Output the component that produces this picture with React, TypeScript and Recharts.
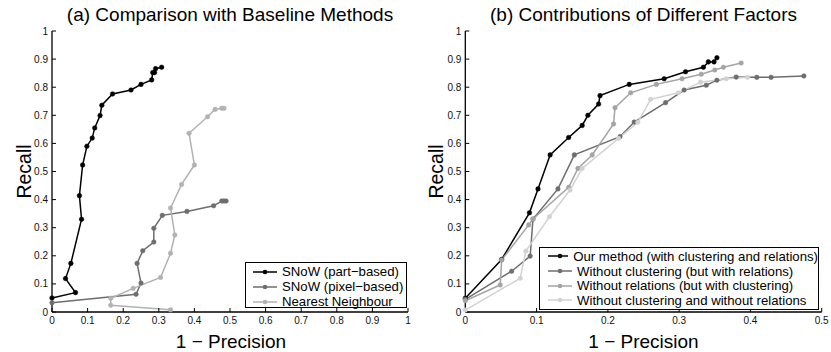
import React from 'react';
import { LineChart, Line, XAxis, YAxis, Legend } from 'recharts';

// ---- panel (a): comparison with baseline methods ----
const partBasedX = [0, 0.066, 0.038, 0.053, 0.083, 0.077, 0.086, 0.098, 0.113, 0.12, 0.135, 0.14, 0.17, 0.222, 0.25, 0.28, 0.283, 0.288, 0.291, 0.308];
const partBasedY = [0.05, 0.069, 0.119, 0.173, 0.33, 0.414, 0.523, 0.59, 0.619, 0.655, 0.699, 0.736, 0.776, 0.79, 0.81, 0.826, 0.852, 0.852, 0.866, 0.871];

const pixelBasedX = [0, 0.236, 0.25, 0.239, 0.255, 0.286, 0.286, 0.31, 0.379, 0.454, 0.477, 0.483, 0.489];
const pixelBasedY = [0.033, 0.063, 0.103, 0.173, 0.218, 0.249, 0.298, 0.344, 0.358, 0.378, 0.395, 0.395, 0.395];

const nearestX = [0.333, 0.165, 0.165, 0.228, 0.305, 0.333, 0.345, 0.333, 0.364, 0.4, 0.385, 0.437, 0.458, 0.477, 0.483];
const nearestY = [0.008, 0.024, 0.049, 0.084, 0.123, 0.209, 0.274, 0.37, 0.454, 0.523, 0.636, 0.695, 0.721, 0.725, 0.725];

// ---- panel (b): contributions of different factors ----
const ourX = [0, 0.051, 0.09, 0.102, 0.119, 0.145, 0.164, 0.172, 0.187, 0.189, 0.23, 0.279, 0.309, 0.334, 0.341, 0.349, 0.353];
const ourY = [0.049, 0.187, 0.353, 0.438, 0.559, 0.621, 0.664, 0.7, 0.74, 0.77, 0.81, 0.83, 0.855, 0.871, 0.89, 0.89, 0.905];

const noClusterX = [0, 0.065, 0.091, 0.095, 0.13, 0.153, 0.217, 0.237, 0.281, 0.307, 0.338, 0.353, 0.38, 0.409, 0.429, 0.475];
const noClusterY = [0.045, 0.145, 0.199, 0.331, 0.438, 0.559, 0.624, 0.676, 0.745, 0.79, 0.807, 0.825, 0.836, 0.835, 0.835, 0.84];

const noRelX = [0, 0.049, 0.051, 0.089, 0.095, 0.145, 0.158, 0.178, 0.208, 0.21, 0.232, 0.268, 0.304, 0.331, 0.35, 0.362, 0.387];
const noRelY = [0.04, 0.096, 0.185, 0.31, 0.331, 0.444, 0.511, 0.559, 0.669, 0.727, 0.78, 0.81, 0.83, 0.846, 0.861, 0.871, 0.886];

const neitherX = [0, 0.077, 0.085, 0.118, 0.147, 0.164, 0.215, 0.242, 0.26, 0.299, 0.33, 0.366, 0.396];
const neitherY = [0.007, 0.12, 0.217, 0.339, 0.434, 0.511, 0.618, 0.675, 0.757, 0.78, 0.818, 0.83, 0.835];

const recallTicks = [0, 0.1, 0.2, 0.3, 0.4, 0.5, 0.6, 0.7, 0.8, 0.9, 1];
const ticksA = [0, 0.1, 0.2, 0.3, 0.4, 0.5, 0.6, 0.7, 0.8, 0.9, 1];
const ticksB = [0, 0.1, 0.2, 0.3, 0.4, 0.5];

const FONT = '"Liberation Sans", Arial, Helvetica, sans-serif';

type Series = { name: string; color: string; xs: number[]; ys: number[] };

const seriesA: Series[] = [
  { name: 'SNoW (part−based)', color: '#000000', xs: partBasedX, ys: partBasedY },
  { name: 'SNoW (pixel−based)', color: '#6e6e6e', xs: pixelBasedX, ys: pixelBasedY },
  { name: 'Nearest Neighbour', color: '#b2b2b2', xs: nearestX, ys: nearestY },
];

const seriesB: Series[] = [
  { name: 'Our method (with clustering and relations)', color: '#000000', xs: ourX, ys: ourY },
  { name: 'Without clustering (but with relations)', color: '#6e6e6e', xs: noClusterX, ys: noClusterY },
  { name: 'Without relations (but with clustering)', color: '#a4a4a4', xs: noRelX, ys: noRelY },
  { name: 'Without clustering and without relations', color: '#d2d2d2', xs: neitherX, ys: neitherY },
];

const toPoints = (s: Series) => s.xs.map((x, i) => ({ x, y: s.ys[i] }));
const fmt = (v: number) => String(v);

const axisLine = { stroke: '#000', strokeWidth: 1.3 };
const tickLine = { stroke: '#000', strokeWidth: 1 };
const tickStyle = { fill: '#111', fontSize: 10, fontFamily: FONT };

interface PanelProps {
  left: number;
  series: Series[];
  xMax: number;
  xTicks: number[];
  margin: { top: number; right: number; bottom: number; left: number };
  legendBox: { left: number; top: number; width: number; height: number; row: number; padLeft: number };
}

const Panel: React.FC<PanelProps> = ({ left, series, xMax, xTicks, margin, legendBox }) => {
  const renderLegend = () => (
    <div
      style={{
        boxSizing: 'border-box',
        width: legendBox.width,
        height: legendBox.height,
        border: '1.3px solid #000',
        background: '#fff',
        paddingTop: 1,
        paddingLeft: legendBox.padLeft,
        fontFamily: FONT,
        fontSize: 13.2,
        color: '#000',
      }}
    >
      {series.map((s) => (
        <div key={s.name} style={{ height: legendBox.row, display: 'flex', alignItems: 'center', whiteSpace: 'nowrap' }}>
          <svg width={24} height={8} style={{ marginRight: 5 }}>
            <line x1={0} y1={4} x2={24} y2={4} stroke={s.color} strokeWidth={1.5} />
            <circle cx={12} cy={4} r={2.3} fill={s.color} />
          </svg>
          <span>{s.name}</span>
        </div>
      ))}
    </div>
  );

  return (
    <div style={{ position: 'absolute', left, top: 0 }}>
      <LineChart width={415} height={352} margin={margin}>
        <XAxis
          type="number"
          dataKey="x"
          domain={[0, xMax]}
          ticks={xTicks}
          tickFormatter={fmt}
          height={30}
          tickSize={-4}
          tickMargin={9}
          axisLine={axisLine}
          tickLine={tickLine}
          tick={tickStyle}
          interval={0}
        />
        <XAxis
          xAxisId="top"
          orientation="top"
          type="number"
          domain={[0, xMax]}
          ticks={xTicks}
          height={0}
          tickSize={-4}
          axisLine={axisLine}
          tickLine={tickLine}
          tick={false}
          interval={0}
        />
        <YAxis
          type="number"
          domain={[0, 1]}
          ticks={recallTicks}
          tickFormatter={fmt}
          width={30}
          tickSize={-4}
          tickMargin={8}
          axisLine={axisLine}
          tickLine={tickLine}
          tick={tickStyle}
          interval={0}
        />
        <YAxis
          yAxisId="right"
          orientation="right"
          type="number"
          domain={[0, 1]}
          ticks={recallTicks}
          width={0}
          tickSize={-4}
          axisLine={axisLine}
          tickLine={tickLine}
          tick={false}
          interval={0}
        />
        {series.map((s) => (
          <Line
            key={s.name}
            name={s.name}
            data={toPoints(s)}
            dataKey="y"
            type="linear"
            stroke={s.color}
            strokeWidth={1.5}
            dot={{ r: 2.3, fill: s.color, stroke: s.color, strokeWidth: 0.5 }}
            isAnimationActive={false}
          />
        ))}
        <Legend
          layout="vertical"
          align="center"
          verticalAlign="middle"
          wrapperStyle={{ left: legendBox.left, top: legendBox.top, width: legendBox.width }}
          content={renderLegend}
        />
      </LineChart>
    </div>
  );
};

export default function App() {
  return (
    <div style={{ position: 'absolute', left: 0, top: 0, width: 831, height: 352, background: '#fff', fontFamily: FONT }}>
      <Panel
        left={0}
        series={seriesA}
        xMax={1}
        xTicks={ticksA}
        margin={{ top: 31, right: 7, bottom: 10, left: 22 }}
        legendBox={{ left: 245, top: 262, width: 162, height: 46, row: 15, padLeft: 7 }}
      />
      <Panel
        left={416}
        series={seriesB}
        xMax={0.5}
        xTicks={ticksB}
        margin={{ top: 31, right: 9.3, bottom: 10, left: 19.3 }}
        legendBox={{ left: 123, top: 247, width: 280, height: 63, row: 14.7, padLeft: 8 }}
      />
      <svg width={831} height={352} style={{ position: 'absolute', left: 0, top: 0, pointerEvents: 'none' }} fontFamily={FONT} fill="#000">
        <text x={230} y={20.5} fontSize={19} textAnchor="middle">(a) Comparison with Baseline Methods</text>
        <text x={643.5} y={20.5} fontSize={19} textAnchor="middle">(b) Contributions of Different Factors</text>
        <text x={231} y={347.5} fontSize={19} textAnchor="middle">1 − Precision</text>
        <text x={643.5} y={347.5} fontSize={19} textAnchor="middle">1 − Precision</text>
        <text transform="translate(31,171.5) rotate(-90)" fontSize={19.5} textAnchor="middle">Recall</text>
        <text transform="translate(443,171.5) rotate(-90)" fontSize={19.5} textAnchor="middle">Recall</text>
      </svg>
    </div>
  );
}
